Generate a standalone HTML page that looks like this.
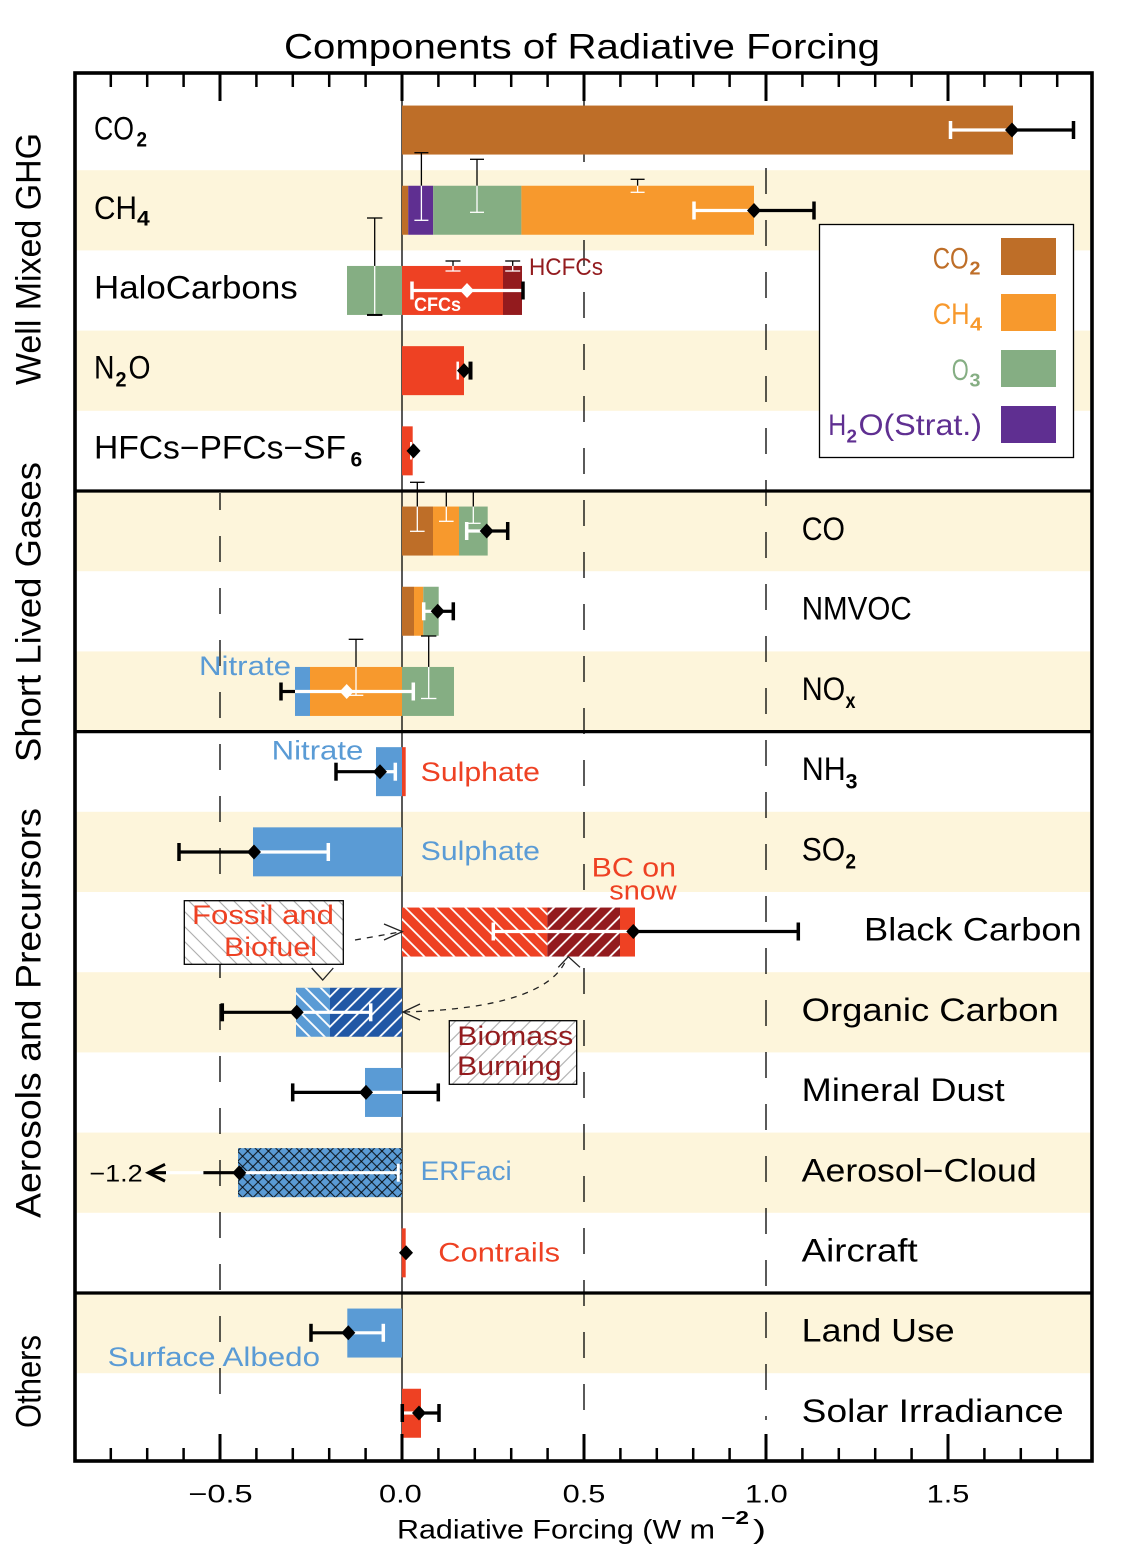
<!DOCTYPE html>
<html><head><meta charset="utf-8"><style>
html,body{margin:0;padding:0;background:#fff;}
svg{display:block;}
text{font-family:"Liberation Sans","DejaVu Sans",sans-serif;}
</style></head><body>
<svg width="1126" height="1563" viewBox="0 0 1126 1563" xmlns="http://www.w3.org/2000/svg">
<defs>
 <pattern id="wbs" patternUnits="userSpaceOnUse" width="10.6" height="10" patternTransform="rotate(-45)"><line x1="5.3" y1="-2" x2="5.3" y2="12" stroke="#fff" stroke-width="1.8"/></pattern>
 <pattern id="wfs" patternUnits="userSpaceOnUse" width="10.6" height="10" patternTransform="rotate(45)"><line x1="5.3" y1="-2" x2="5.3" y2="12" stroke="#fff" stroke-width="1.8"/></pattern>
 <pattern id="gbs" patternUnits="userSpaceOnUse" width="10.6" height="10" patternTransform="rotate(-45)"><line x1="5.3" y1="-2" x2="5.3" y2="12" stroke="#aaa" stroke-width="1.1"/></pattern>
 <pattern id="gfs" patternUnits="userSpaceOnUse" width="10.6" height="10" patternTransform="rotate(45)"><line x1="5.3" y1="-2" x2="5.3" y2="12" stroke="#aaa" stroke-width="1.1"/></pattern>
 <pattern id="xh" patternUnits="userSpaceOnUse" width="7.3" height="7.3" patternTransform="rotate(45)"><line x1="3.65" y1="-1" x2="3.65" y2="8.3" stroke="#000" stroke-width="0.9"/><line x1="-1" y1="3.65" x2="8.3" y2="3.65" stroke="#000" stroke-width="0.9"/></pattern>
</defs>

<!-- background bands -->
<g fill="#FDF5DB">
 <rect x="75" y="170.2" width="1017" height="80.2"/>
 <rect x="75" y="330.6" width="1017" height="80.2"/>
 <rect x="75" y="491" width="1017" height="80.2"/>
 <rect x="75" y="651.4" width="1017" height="80.2"/>
 <rect x="75" y="811.8" width="1017" height="80.2"/>
 <rect x="75" y="972.2" width="1017" height="80.2"/>
 <rect x="75" y="1132.6" width="1017" height="80.2"/>
 <rect x="75" y="1293" width="1017" height="80.2"/>
</g>

<!-- reference lines -->
<line x1="402" y1="73" x2="402" y2="1461" stroke="#000" stroke-width="1.3"/>
<line x1="220" y1="493" x2="220" y2="1400" stroke="#000" stroke-width="1.3" stroke-dasharray="26 26" stroke-dashoffset="9"/>
<line x1="584" y1="84" x2="584" y2="1420" stroke="#000" stroke-width="1.3" stroke-dasharray="26 26"/>
<line x1="766" y1="116" x2="766" y2="1420" stroke="#000" stroke-width="1.3" stroke-dasharray="26 26"/>

<!-- bars -->
<rect x="402" y="105.55" width="611" height="49" fill="#BE6E28"/>

<rect x="402" y="185.75" width="6.2" height="49" fill="#BE6E28"/>
<rect x="408.2" y="185.75" width="25" height="49" fill="#5F2F91"/>
<rect x="433.2" y="185.75" width="88.2" height="49" fill="#85AE83"/>
<rect x="521.4" y="185.75" width="232.6" height="49" fill="#F7992D"/>

<rect x="347" y="265.95" width="55" height="49" fill="#85AE83"/>
<rect x="402" y="265.95" width="101" height="49" fill="#EE4123"/>
<rect x="503" y="265.95" width="19" height="49" fill="#931B1E"/>

<rect x="402" y="346.15" width="62" height="49" fill="#EE4123"/>
<rect x="402" y="426.35" width="10.7" height="49" fill="#EE4123"/>

<rect x="402" y="506.55" width="31" height="49" fill="#BE6E28"/>
<rect x="433" y="506.55" width="26" height="49" fill="#F7992D"/>
<rect x="459" y="506.55" width="28.7" height="49" fill="#85AE83"/>

<rect x="402" y="586.75" width="12" height="49" fill="#BE6E28"/>
<rect x="414" y="586.75" width="9.3" height="49" fill="#F7992D"/>
<rect x="423.3" y="586.75" width="15.4" height="49" fill="#85AE83"/>

<rect x="295" y="666.95" width="15" height="49" fill="#5A9BD5"/>
<rect x="310" y="666.95" width="92" height="49" fill="#F7992D"/>
<rect x="402" y="666.95" width="52" height="49" fill="#85AE83"/>

<rect x="376" y="747.15" width="26" height="49" fill="#5A9BD5"/>
<rect x="402" y="747.15" width="3.7" height="49" fill="#EE4123"/>

<rect x="253" y="827.35" width="149" height="49" fill="#5A9BD5"/>

<rect x="402" y="907.55" width="145.3" height="49" fill="#EE4123"/>
<rect x="402" y="907.55" width="145.3" height="49" fill="url(#wbs)"/>
<rect x="547.3" y="907.55" width="72.7" height="49" fill="#931B1E"/>
<rect x="547.3" y="907.55" width="72.7" height="49" fill="url(#wfs)"/>
<rect x="620" y="907.55" width="15" height="49" fill="#EE4123"/>

<rect x="296" y="987.75" width="34" height="49" fill="#5A9BD5"/>
<rect x="296" y="987.75" width="34" height="49" fill="url(#wbs)"/>
<rect x="330" y="987.75" width="72" height="49" fill="#2157A5"/>
<rect x="330" y="987.75" width="72" height="49" fill="url(#wfs)"/>

<rect x="365" y="1067.95" width="37" height="49" fill="#5A9BD5"/>

<rect x="238" y="1148.15" width="164" height="49" fill="#5A9BD5"/>
<rect x="238" y="1148.15" width="164" height="49" fill="url(#xh)"/>

<rect x="401.7" y="1228.35" width="4" height="49" fill="#EE4123"/>

<rect x="347.3" y="1308.55" width="54.7" height="49" fill="#5A9BD5"/>

<rect x="402" y="1388.75" width="19" height="49" fill="#EE4123"/>

<!-- thin component I-beams -->
<g stroke-width="1.3" fill="none">
 <line x1="421.4" y1="152.7" x2="421.4" y2="185.75" stroke="#000"/>
 <line x1="421.4" y1="185.75" x2="421.4" y2="220.3" stroke="#fff"/>
 <line x1="414.4" y1="152.7" x2="428.4" y2="152.7" stroke="#000"/>
 <line x1="414.4" y1="220.3" x2="428.4" y2="220.3" stroke="#fff"/>

 <line x1="477" y1="159.3" x2="477" y2="185.75" stroke="#000"/>
 <line x1="477" y1="185.75" x2="477" y2="212.3" stroke="#fff"/>
 <line x1="470" y1="159.3" x2="484" y2="159.3" stroke="#000"/>
 <line x1="470" y1="212.3" x2="484" y2="212.3" stroke="#fff"/>

 <line x1="637.6" y1="179.3" x2="637.6" y2="185.75" stroke="#000"/>
 <line x1="637.6" y1="185.75" x2="637.6" y2="192.3" stroke="#fff"/>
 <line x1="630.6" y1="179.3" x2="644.6" y2="179.3" stroke="#000"/>
 <line x1="630.6" y1="192.3" x2="644.6" y2="192.3" stroke="#fff"/>

 <line x1="374.7" y1="218" x2="374.7" y2="265.95" stroke="#000"/>
 <line x1="374.7" y1="265.95" x2="374.7" y2="314.95" stroke="#fff"/>
 <line x1="367" y1="218" x2="382.4" y2="218" stroke="#000"/>
 <line x1="367" y1="314.95" x2="382.4" y2="314.95" stroke="#000" stroke-width="2"/>

 <line x1="453" y1="261" x2="453" y2="265.95" stroke="#000"/>
 <line x1="453" y1="265.95" x2="453" y2="271" stroke="#fff"/>
 <line x1="445.5" y1="261" x2="460.5" y2="261" stroke="#000"/>
 <line x1="445.5" y1="271" x2="460.5" y2="271" stroke="#fff"/>

 <line x1="512.7" y1="261" x2="512.7" y2="265.95" stroke="#000"/>
 <line x1="512.7" y1="265.95" x2="512.7" y2="271" stroke="#fff"/>
 <line x1="505.2" y1="261" x2="520.2" y2="261" stroke="#000"/>
 <line x1="505.2" y1="271" x2="520.2" y2="271" stroke="#fff"/>

 <line x1="417.3" y1="482.3" x2="417.3" y2="506.55" stroke="#000"/>
 <line x1="417.3" y1="506.55" x2="417.3" y2="531.3" stroke="#fff"/>
 <line x1="410" y1="482.3" x2="424.6" y2="482.3" stroke="#000"/>
 <line x1="410" y1="531.3" x2="424.6" y2="531.3" stroke="#fff"/>

 <line x1="446.3" y1="491" x2="446.3" y2="506.55" stroke="#000"/>
 <line x1="446.3" y1="506.55" x2="446.3" y2="521.3" stroke="#fff"/>
 <line x1="439" y1="521.3" x2="453.6" y2="521.3" stroke="#fff"/>

 <line x1="473.3" y1="491" x2="473.3" y2="506.55" stroke="#000"/>
 <line x1="473.3" y1="506.55" x2="473.3" y2="523.3" stroke="#fff"/>
 <line x1="466" y1="523.3" x2="480.6" y2="523.3" stroke="#fff"/>

 <line x1="356" y1="639.3" x2="356" y2="666.95" stroke="#000"/>
 <line x1="356" y1="666.95" x2="356" y2="695.3" stroke="#fff"/>
 <line x1="348.7" y1="639.3" x2="363.3" y2="639.3" stroke="#000"/>
 <line x1="348.7" y1="695.3" x2="363.3" y2="695.3" stroke="#fff"/>

 <line x1="428.7" y1="636" x2="428.7" y2="666.95" stroke="#000"/>
 <line x1="428.7" y1="666.95" x2="428.7" y2="698.5" stroke="#fff"/>
 <line x1="421" y1="636" x2="436.4" y2="636" stroke="#000"/>
 <line x1="421" y1="698.5" x2="436.4" y2="698.5" stroke="#fff"/>
</g>

<!-- main whiskers -->
<g stroke-width="3.2" fill="none">
 <line x1="950.5" y1="130" x2="1013" y2="130" stroke="#fff"/>
 <line x1="950.5" y1="121" x2="950.5" y2="139" stroke="#fff" stroke-width="3.5"/>
 <line x1="1013" y1="130" x2="1073.5" y2="130" stroke="#000"/>
 <line x1="1073.5" y1="121" x2="1073.5" y2="139" stroke="#000" stroke-width="3.5"/>

 <line x1="694" y1="210.5" x2="754" y2="210.5" stroke="#fff"/>
 <line x1="694" y1="201.5" x2="694" y2="219.5" stroke="#fff" stroke-width="3.5"/>
 <line x1="754" y1="210.5" x2="814" y2="210.5" stroke="#000"/>
 <line x1="814" y1="201.5" x2="814" y2="219.5" stroke="#000" stroke-width="3.5"/>

 <line x1="412" y1="290.5" x2="522" y2="290.5" stroke="#fff"/>
 <line x1="412" y1="281.5" x2="412" y2="299.5" stroke="#fff" stroke-width="3.5"/>
 <line x1="523" y1="281.5" x2="523" y2="299.5" stroke="#000" stroke-width="3.5"/>

 <line x1="457.7" y1="361.6" x2="457.7" y2="379.6" stroke="#fff" stroke-width="2.5"/>
 <line x1="464" y1="370.6" x2="470.5" y2="370.6" stroke="#000"/>
 <line x1="470.5" y1="361.6" x2="470.5" y2="379.6" stroke="#000" stroke-width="4"/>

 <line x1="411" y1="442" x2="411" y2="459.5" stroke="#fff" stroke-width="2"/>

 <line x1="466.7" y1="531" x2="486.7" y2="531" stroke="#fff"/>
 <line x1="466.7" y1="522" x2="466.7" y2="540" stroke="#fff" stroke-width="3.5"/>
 <line x1="486.7" y1="531" x2="507.7" y2="531" stroke="#000"/>
 <line x1="507.7" y1="522" x2="507.7" y2="540" stroke="#000" stroke-width="3.5"/>

 <line x1="423.7" y1="611.3" x2="437.7" y2="611.3" stroke="#fff"/>
 <line x1="423.7" y1="602.3" x2="423.7" y2="620.3" stroke="#fff" stroke-width="3.5"/>
 <line x1="437.7" y1="611.3" x2="453.3" y2="611.3" stroke="#000"/>
 <line x1="453.3" y1="602.3" x2="453.3" y2="620.3" stroke="#000" stroke-width="3.5"/>

 <line x1="281" y1="691.5" x2="295" y2="691.5" stroke="#000"/>
 <line x1="281" y1="682.5" x2="281" y2="700.5" stroke="#000" stroke-width="3.5"/>
 <line x1="295" y1="691.5" x2="413.3" y2="691.5" stroke="#fff"/>
 <line x1="413.3" y1="682.5" x2="413.3" y2="700.5" stroke="#fff" stroke-width="3.5"/>

 <line x1="336" y1="771.7" x2="380" y2="771.7" stroke="#000"/>
 <line x1="336" y1="762.7" x2="336" y2="780.7" stroke="#000" stroke-width="3.5"/>
 <line x1="380" y1="771.7" x2="395.3" y2="771.7" stroke="#fff"/>
 <line x1="395.3" y1="762.7" x2="395.3" y2="780.7" stroke="#fff" stroke-width="3.5"/>

 <line x1="179" y1="852" x2="254" y2="852" stroke="#000"/>
 <line x1="179" y1="843" x2="179" y2="861" stroke="#000" stroke-width="3.5"/>
 <line x1="254" y1="852" x2="328.3" y2="852" stroke="#fff"/>
 <line x1="328.3" y1="843" x2="328.3" y2="861" stroke="#fff" stroke-width="3.5"/>

 <line x1="493.3" y1="931.5" x2="633.3" y2="931.5" stroke="#fff"/>
 <line x1="493.3" y1="922.5" x2="493.3" y2="940.5" stroke="#fff" stroke-width="3.5"/>
 <line x1="633.3" y1="931.5" x2="798.3" y2="931.5" stroke="#000"/>
 <line x1="798.3" y1="922.5" x2="798.3" y2="940.5" stroke="#000" stroke-width="3.5"/>

 <line x1="222.3" y1="1012.3" x2="296.7" y2="1012.3" stroke="#000"/>
 <line x1="222.3" y1="1003.3" x2="222.3" y2="1021.3" stroke="#000" stroke-width="3.5"/>
 <line x1="296.7" y1="1012.3" x2="370.7" y2="1012.3" stroke="#fff"/>
 <line x1="370.7" y1="1003.3" x2="370.7" y2="1021.3" stroke="#fff" stroke-width="3.5"/>

 <line x1="292.7" y1="1092.4" x2="366" y2="1092.4" stroke="#000"/>
 <line x1="292.7" y1="1083.4" x2="292.7" y2="1101.4" stroke="#000" stroke-width="3.5"/>
 <line x1="366" y1="1092.4" x2="402" y2="1092.4" stroke="#fff"/>
 <line x1="402" y1="1092.4" x2="438.3" y2="1092.4" stroke="#000"/>
 <line x1="438.3" y1="1083.4" x2="438.3" y2="1101.4" stroke="#000" stroke-width="3.5"/>

 <line x1="239.3" y1="1172.7" x2="398.3" y2="1172.7" stroke="#fff"/>
 <line x1="398.3" y1="1163.7" x2="398.3" y2="1181.7" stroke="#fff" stroke-width="3"/>
 <line x1="203.3" y1="1172.7" x2="239.3" y2="1172.7" stroke="#000"/>
 <line x1="166" y1="1172.7" x2="203.3" y2="1172.7" stroke="#fff"/>
 <line x1="149" y1="1172.7" x2="166" y2="1172.7" stroke="#000"/>
 <polyline points="165,1164.3 148.3,1172.7 165,1181.1" stroke="#000" stroke-width="3"/>

 <line x1="311" y1="1332.8" x2="348.3" y2="1332.8" stroke="#000"/>
 <line x1="311" y1="1323.8" x2="311" y2="1341.8" stroke="#000" stroke-width="3.5"/>
 <line x1="348.3" y1="1332.8" x2="383.3" y2="1332.8" stroke="#fff"/>
 <line x1="383.3" y1="1323.8" x2="383.3" y2="1341.8" stroke="#fff" stroke-width="3.5"/>

 <line x1="402.3" y1="1404" x2="402.3" y2="1422" stroke="#000" stroke-width="3.5"/>
 <line x1="404" y1="1413" x2="419" y2="1413" stroke="#fff"/>
 <line x1="419" y1="1413" x2="439" y2="1413" stroke="#000"/>
 <line x1="439" y1="1404" x2="439" y2="1422" stroke="#000" stroke-width="3.5"/>
</g>

<!-- diamonds -->
<g fill="#000">
 <polygon points="1005,130 1012,122.5 1019,130 1012,137.5"/>
 <polygon points="747,210.5 754,203 761,210.5 754,218"/>
 <polygon points="457,370.6 464,363.1 471,370.6 464,378.1"/>
 <polygon points="406.5,450.9 413.5,443.4 420.5,450.9 413.5,458.4"/>
 <polygon points="479.7,531 486.7,523.5 493.7,531 486.7,538.5"/>
 <polygon points="430.7,611.3 437.7,603.8 444.7,611.3 437.7,618.8"/>
 <polygon points="373,771.7 380,764.2 387,771.7 380,779.2"/>
 <polygon points="247,852 254,844.5 261,852 254,859.5"/>
 <polygon points="626.3,931.5 633.3,924 640.3,931.5 633.3,939"/>
 <polygon points="289.7,1012.3 296.7,1004.8 303.7,1012.3 296.7,1019.8"/>
 <polygon points="359,1092.4 366,1084.9 373,1092.4 366,1099.9"/>
 <polygon points="232.3,1172.7 239.3,1165.2 246.3,1172.7 239.3,1180.2"/>
 <polygon points="399,1252.7 406,1245.2 413,1252.7 406,1260.2"/>
 <polygon points="341.3,1332.8 348.3,1325.3 355.3,1332.8 348.3,1340.3"/>
 <polygon points="412,1413 419,1405.5 426,1413 419,1420.5"/>
</g>
<g fill="#fff">
 <polygon points="460,290.5 467,283 474,290.5 467,298"/>
 <polygon points="339.7,691.5 346.7,684 353.7,691.5 346.7,699"/>
</g>

<!-- annotation boxes -->
<rect x="184.3" y="900.7" width="159" height="63.6" fill="#fff"/>
<rect x="184.3" y="900.7" width="159" height="63.6" fill="url(#gbs)" stroke="#000" stroke-width="1.3"/>
<rect x="449.3" y="1020.7" width="127.4" height="63.6" fill="#fff"/>
<rect x="449.3" y="1020.7" width="127.4" height="63.6" fill="url(#gfs)" stroke="#000" stroke-width="1.3"/>

<!-- arrows -->
<g stroke="#222" stroke-width="1.3" fill="none">
 <line x1="355" y1="940" x2="400" y2="932" stroke-dasharray="6 6"/>
 <polyline points="384,924 402.3,931.7 384,940"/>
 <polyline points="311.7,968 322.7,980 333.3,968"/>
 <path d="M404,1012 Q545,1008 566,960" stroke-dasharray="6 6"/>
 <polyline points="420,1004 403,1012 420,1020"/>
 <polyline points="558.3,967.3 568.3,956.7 580,967.3"/>
</g>

<!-- frame, separators, ticks -->
<g stroke="#000" fill="none">
 <line x1="75" y1="491" x2="1092" y2="491" stroke-width="3.2"/>
 <line x1="75" y1="731.6" x2="1092" y2="731.6" stroke-width="3.2"/>
 <line x1="75" y1="1293" x2="1092" y2="1293" stroke-width="3.2"/>
 <rect x="75" y="73" width="1017" height="1388" stroke-width="3.6"/>
 <g stroke-width="2.5">
  <line x1="110.8" y1="73" x2="110.8" y2="87"/><line x1="147.2" y1="73" x2="147.2" y2="87"/><line x1="183.6" y1="73" x2="183.6" y2="87"/>
  <line x1="256.4" y1="73" x2="256.4" y2="87"/><line x1="292.8" y1="73" x2="292.8" y2="87"/><line x1="329.2" y1="73" x2="329.2" y2="87"/><line x1="365.6" y1="73" x2="365.6" y2="87"/>
  <line x1="438.4" y1="73" x2="438.4" y2="87"/><line x1="474.8" y1="73" x2="474.8" y2="87"/><line x1="511.2" y1="73" x2="511.2" y2="87"/><line x1="547.6" y1="73" x2="547.6" y2="87"/>
  <line x1="620.4" y1="73" x2="620.4" y2="87"/><line x1="656.8" y1="73" x2="656.8" y2="87"/><line x1="693.2" y1="73" x2="693.2" y2="87"/><line x1="729.6" y1="73" x2="729.6" y2="87"/>
  <line x1="802.4" y1="73" x2="802.4" y2="87"/><line x1="838.8" y1="73" x2="838.8" y2="87"/><line x1="875.2" y1="73" x2="875.2" y2="87"/><line x1="911.6" y1="73" x2="911.6" y2="87"/>
  <line x1="984.4" y1="73" x2="984.4" y2="87"/><line x1="1020.8" y1="73" x2="1020.8" y2="87"/><line x1="1057.2" y1="73" x2="1057.2" y2="87"/>

  <line x1="110.8" y1="1461" x2="110.8" y2="1448"/><line x1="147.2" y1="1461" x2="147.2" y2="1448"/><line x1="183.6" y1="1461" x2="183.6" y2="1448"/>
  <line x1="256.4" y1="1461" x2="256.4" y2="1448"/><line x1="292.8" y1="1461" x2="292.8" y2="1448"/><line x1="329.2" y1="1461" x2="329.2" y2="1448"/><line x1="365.6" y1="1461" x2="365.6" y2="1448"/>
  <line x1="438.4" y1="1461" x2="438.4" y2="1448"/><line x1="474.8" y1="1461" x2="474.8" y2="1448"/><line x1="511.2" y1="1461" x2="511.2" y2="1448"/><line x1="547.6" y1="1461" x2="547.6" y2="1448"/>
  <line x1="620.4" y1="1461" x2="620.4" y2="1448"/><line x1="656.8" y1="1461" x2="656.8" y2="1448"/><line x1="693.2" y1="1461" x2="693.2" y2="1448"/><line x1="729.6" y1="1461" x2="729.6" y2="1448"/>
  <line x1="802.4" y1="1461" x2="802.4" y2="1448"/><line x1="838.8" y1="1461" x2="838.8" y2="1448"/><line x1="875.2" y1="1461" x2="875.2" y2="1448"/><line x1="911.6" y1="1461" x2="911.6" y2="1448"/>
  <line x1="984.4" y1="1461" x2="984.4" y2="1448"/><line x1="1020.8" y1="1461" x2="1020.8" y2="1448"/><line x1="1057.2" y1="1461" x2="1057.2" y2="1448"/>
 </g>
 <g stroke-width="3">
  <line x1="220" y1="73" x2="220" y2="101"/><line x1="402" y1="73" x2="402" y2="101"/><line x1="584" y1="73" x2="584" y2="101"/><line x1="766" y1="73" x2="766" y2="101"/><line x1="948" y1="73" x2="948" y2="101"/>
  <line x1="220" y1="1461" x2="220" y2="1434"/><line x1="402" y1="1461" x2="402" y2="1434"/><line x1="584" y1="1461" x2="584" y2="1434"/><line x1="766" y1="1461" x2="766" y2="1434"/><line x1="948" y1="1461" x2="948" y2="1434"/>
 </g>
</g>

<!-- legend -->
<rect x="819.5" y="224.5" width="254" height="233" fill="#fff" stroke="#000" stroke-width="1.3"/>
<rect x="1001" y="238" width="55" height="37" fill="#BE6E28"/>
<rect x="1001" y="294" width="55" height="37" fill="#F7992D"/>
<rect x="1001" y="350" width="55" height="37" fill="#85AE83"/>
<rect x="1001" y="406" width="55" height="37" fill="#5F2F91"/>
<g font-size="30">
 <text x="932.7" y="268.3" fill="#BE6E28" textLength="36" lengthAdjust="spacingAndGlyphs">CO</text>
 <text x="969.5" y="274.5" fill="#BE6E28" font-size="18" font-weight="bold" textLength="11" lengthAdjust="spacingAndGlyphs">2</text>
 <text x="932.7" y="324" fill="#F7992D" textLength="37" lengthAdjust="spacingAndGlyphs">CH</text>
 <text x="970" y="330.5" fill="#F7992D" font-size="18" font-weight="bold" textLength="12" lengthAdjust="spacingAndGlyphs">4</text>
 <text x="951.7" y="380" fill="#85AE83" textLength="17" lengthAdjust="spacingAndGlyphs">O</text>
 <text x="969.5" y="386.7" fill="#85AE83" font-size="18" font-weight="bold" textLength="11" lengthAdjust="spacingAndGlyphs">3</text>
 <text x="828.3" y="435" fill="#5F2F91" textLength="18" lengthAdjust="spacingAndGlyphs">H</text>
 <text x="846.5" y="442.7" fill="#5F2F91" font-size="18" font-weight="bold" textLength="10.5" lengthAdjust="spacingAndGlyphs">2</text>
 <text x="858.5" y="435" fill="#5F2F91" textLength="123.5" lengthAdjust="spacingAndGlyphs">O(Strat.)</text>
</g>

<!-- title -->
<text x="284" y="58.3" font-size="35" fill="#000" textLength="596" lengthAdjust="spacingAndGlyphs">Components of Radiative Forcing</text>

<!-- left row labels -->
<g font-size="32" fill="#000">
 <text x="94" y="139.3" textLength="40" lengthAdjust="spacingAndGlyphs">CO</text>
 <text x="136.5" y="146.7" font-size="21" font-weight="bold" textLength="10.5" lengthAdjust="spacingAndGlyphs">2</text>
 <text x="94" y="218.8" textLength="43" lengthAdjust="spacingAndGlyphs">CH</text>
 <text x="137" y="225.5" font-size="21" font-weight="bold" textLength="12.7" lengthAdjust="spacingAndGlyphs">4</text>
 <text x="94" y="298.3" textLength="203.7" lengthAdjust="spacingAndGlyphs">HaloCarbons</text>
 <text x="94" y="378.6" textLength="20.5" lengthAdjust="spacingAndGlyphs">N</text>
 <text x="115.5" y="386.3" font-size="21" font-weight="bold" textLength="11" lengthAdjust="spacingAndGlyphs">2</text>
 <text x="128.5" y="378.6" textLength="22" lengthAdjust="spacingAndGlyphs">O</text>
 <text x="94" y="458.6" textLength="252" lengthAdjust="spacingAndGlyphs">HFCs−PFCs−SF</text>
 <text x="350.5" y="466.3" font-size="21" font-weight="bold" textLength="11.7" lengthAdjust="spacingAndGlyphs">6</text>
</g>

<!-- right row labels -->
<g font-size="32" fill="#000">
 <text x="801.7" y="540" textLength="43.3" lengthAdjust="spacingAndGlyphs">CO</text>
 <text x="801.7" y="619.5" textLength="110" lengthAdjust="spacingAndGlyphs">NMVOC</text>
 <text x="801.7" y="700" textLength="43.5" lengthAdjust="spacingAndGlyphs">NO</text>
 <text x="845.5" y="708" font-size="21" font-weight="bold" textLength="10" lengthAdjust="spacingAndGlyphs">x</text>
 <text x="801.7" y="780" textLength="44" lengthAdjust="spacingAndGlyphs">NH</text>
 <text x="845.5" y="788.5" font-size="21" font-weight="bold" textLength="12" lengthAdjust="spacingAndGlyphs">3</text>
 <text x="801.7" y="860.5" textLength="43.5" lengthAdjust="spacingAndGlyphs">SO</text>
 <text x="845.5" y="868.5" font-size="21" font-weight="bold" textLength="10.5" lengthAdjust="spacingAndGlyphs">2</text>
 <text x="864" y="940.5" textLength="217.7" lengthAdjust="spacingAndGlyphs">Black Carbon</text>
 <text x="801.7" y="1021" textLength="257" lengthAdjust="spacingAndGlyphs">Organic Carbon</text>
 <text x="801.7" y="1101" textLength="203" lengthAdjust="spacingAndGlyphs">Mineral Dust</text>
 <text x="801.7" y="1181.5" textLength="235" lengthAdjust="spacingAndGlyphs">Aerosol−Cloud</text>
 <text x="801.7" y="1261.5" textLength="116" lengthAdjust="spacingAndGlyphs">Aircraft</text>
 <text x="801.7" y="1341.5" textLength="153" lengthAdjust="spacingAndGlyphs">Land Use</text>
 <text x="801.7" y="1422" textLength="262" lengthAdjust="spacingAndGlyphs">Solar Irradiance</text>
</g>

<!-- section labels -->
<g font-size="35" fill="#000" text-anchor="middle">
 <text transform="translate(40.7,259) rotate(-90)" textLength="252" lengthAdjust="spacingAndGlyphs">Well Mixed GHG</text>
 <text transform="translate(40.7,612) rotate(-90)" textLength="300" lengthAdjust="spacingAndGlyphs">Short Lived Gases</text>
 <text transform="translate(40.7,1013) rotate(-90)" textLength="410" lengthAdjust="spacingAndGlyphs">Aerosols and Precursors</text>
 <text transform="translate(40.7,1381.5) rotate(-90)" textLength="93" lengthAdjust="spacingAndGlyphs">Others</text>
</g>

<!-- annotations -->
<g font-size="27">
 <text x="199" y="675" fill="#5A9BD5" textLength="92" lengthAdjust="spacingAndGlyphs">Nitrate</text>
 <text x="271.7" y="759.3" fill="#5A9BD5" textLength="91.6" lengthAdjust="spacingAndGlyphs">Nitrate</text>
 <text x="420.7" y="781" fill="#EE4123" textLength="119.3" lengthAdjust="spacingAndGlyphs">Sulphate</text>
 <text x="420.7" y="860" fill="#5A9BD5" textLength="119.3" lengthAdjust="spacingAndGlyphs">Sulphate</text>
 <text x="591.7" y="876.7" fill="#EE4123" textLength="84.3" lengthAdjust="spacingAndGlyphs">BC on</text>
 <text x="609.3" y="899.3" fill="#EE4123" textLength="67.4" lengthAdjust="spacingAndGlyphs">snow</text>
 <text x="192" y="924" fill="#EE4123" textLength="142" lengthAdjust="spacingAndGlyphs">Fossil and</text>
 <text x="224" y="956" fill="#EE4123" textLength="93" lengthAdjust="spacingAndGlyphs">Biofuel</text>
 <text x="457.3" y="1045" fill="#931B1E" textLength="116" lengthAdjust="spacingAndGlyphs">Biomass</text>
 <text x="457" y="1075" fill="#931B1E" textLength="104.7" lengthAdjust="spacingAndGlyphs">Burning</text>
 <text x="420.7" y="1180" fill="#5A9BD5" textLength="91" lengthAdjust="spacingAndGlyphs">ERFaci</text>
 <text x="438.3" y="1261.7" fill="#EE4123" textLength="121.7" lengthAdjust="spacingAndGlyphs">Contrails</text>
 <text x="107.7" y="1366" fill="#5A9BD5" textLength="212.3" lengthAdjust="spacingAndGlyphs">Surface Albedo</text>
</g>
<text x="414" y="311" font-size="19" font-weight="bold" fill="#fff" textLength="47" lengthAdjust="spacingAndGlyphs">CFCs</text>
<text x="529" y="275" font-size="24" fill="#931B1E" textLength="74" lengthAdjust="spacingAndGlyphs">HCFCs</text>
<text x="89.3" y="1181.7" font-size="24" fill="#000" textLength="53.4" lengthAdjust="spacingAndGlyphs">−1.2</text>

<!-- tick labels -->
<g font-size="25" fill="#000">
 <text x="188.3" y="1502.7" textLength="64.4" lengthAdjust="spacingAndGlyphs">−0.5</text>
 <text x="379" y="1502.7" textLength="42.7" lengthAdjust="spacingAndGlyphs">0.0</text>
 <text x="562.7" y="1502.7" textLength="42.7" lengthAdjust="spacingAndGlyphs">0.5</text>
 <text x="745" y="1502.7" textLength="42.7" lengthAdjust="spacingAndGlyphs">1.0</text>
 <text x="926.7" y="1502.7" textLength="42.7" lengthAdjust="spacingAndGlyphs">1.5</text>
</g>

<!-- axis title -->
<text x="397" y="1538.3" font-size="27" fill="#000" textLength="318" lengthAdjust="spacingAndGlyphs">Radiative Forcing (W m</text>
<text x="721" y="1524" font-size="18" font-weight="bold" fill="#000" textLength="28" lengthAdjust="spacingAndGlyphs">−2</text>
<text x="753" y="1538.3" font-size="27" fill="#000" textLength="13" lengthAdjust="spacingAndGlyphs">)</text>
</svg>
</body></html>
